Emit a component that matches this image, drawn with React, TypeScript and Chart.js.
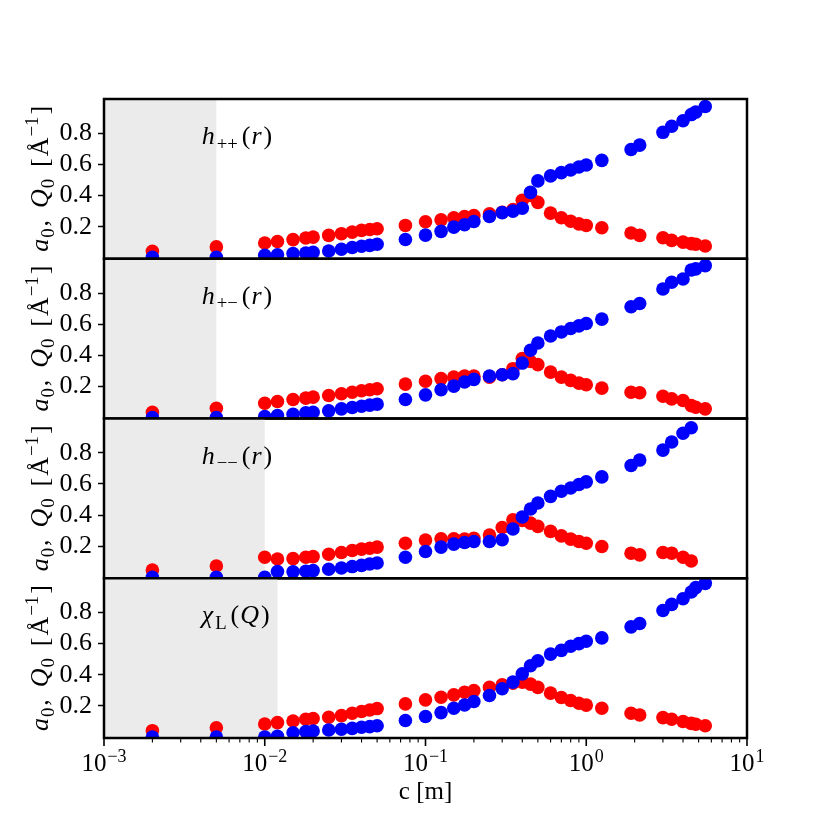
import React, { useEffect, useRef } from 'react';
import { Chart, registerables } from 'chart.js';

Chart.register(...registerables);

// concentration c [m], shared by all four panels (log x axis)
const cValues = [
  0.002, 0.005, 0.01, 0.012, 0.015, 0.018, 0.02, 0.025, 0.03, 0.035, 0.04, 0.045, 0.05,
  0.075, 0.1, 0.125, 0.15, 0.175, 0.2, 0.25, 0.3, 0.35, 0.4, 0.45, 0.5, 0.6, 0.7, 0.8,
  0.9, 1.0, 1.25, 1.9, 2.15, 3.0, 3.4, 4.0, 4.5, 4.8, 5.5,
];

// h_{++}(r)
const redHpp = [
  0.042, 0.07, 0.095, 0.105, 0.117, 0.127, 0.133, 0.144, 0.155, 0.165, 0.176, 0.182, 0.187,
  0.208, 0.232, 0.244, 0.257, 0.265, 0.271, 0.282, 0.293, 0.31, 0.37, 0.4, 0.356, 0.287, 0.257,
  0.235, 0.218, 0.208, 0.193, 0.159, 0.144, 0.129, 0.112, 0.101, 0.091, 0.087, 0.076,
];
const blueHpp = [
  0.003, 0.003, 0.016, 0.02, 0.027, 0.031, 0.035, 0.044, 0.055, 0.066, 0.074, 0.08, 0.087,
  0.118, 0.146, 0.17, 0.197, 0.212, 0.233, 0.265, 0.29, 0.3, 0.318, 0.42, 0.494, 0.526, 0.547,
  0.564, 0.583, 0.596, 0.626, 0.696, 0.724, 0.806, 0.845, 0.88, 0.92, 0.936, 0.972,
];

// h_{+-}(r)
const redHpm = [
  0.034, 0.06, 0.092, 0.103, 0.116, 0.125, 0.131, 0.142, 0.153, 0.163, 0.172, 0.179, 0.185,
  0.215, 0.233, 0.25, 0.26, 0.266, 0.266, 0.26, 0.275, 0.314, 0.379, 0.36, 0.34, 0.292, 0.26,
  0.239, 0.221, 0.211, 0.189, 0.163, 0.159, 0.137, 0.12, 0.11, 0.077, 0.066, 0.056,
];
const blueHpm = [
  0.0, 0.0, 0.006, 0.013, 0.021, 0.03, 0.034, 0.043, 0.056, 0.065, 0.073, 0.08, 0.086,
  0.116, 0.146, 0.179, 0.202, 0.228, 0.245, 0.266, 0.275, 0.282, 0.35, 0.432, 0.479, 0.524, 0.55,
  0.572, 0.589, 0.604, 0.632, 0.712, 0.733, 0.826, 0.869, 0.89, 0.948, 0.955, 0.976,
];

// h_{--}(r)  (stops at c = 4.5)
const redHmm = [
  0.047, 0.073, 0.129, 0.118, 0.12, 0.129, 0.133, 0.148, 0.159, 0.172, 0.181, 0.187, 0.194,
  0.219, 0.239, 0.247, 0.247, 0.245, 0.25, 0.271, 0.32, 0.37, 0.366, 0.348, 0.327, 0.295, 0.266,
  0.245, 0.23, 0.219, 0.198, 0.155, 0.144, 0.159, 0.155, 0.129, 0.105,
];
const blueHmm = [
  0.0, 0.0, 0.0, 0.037, 0.035, 0.039, 0.043, 0.052, 0.06, 0.069, 0.077, 0.086, 0.092,
  0.129, 0.166, 0.194, 0.213, 0.224, 0.23, 0.23, 0.241, 0.31, 0.387, 0.439, 0.477, 0.52, 0.553,
  0.574, 0.596, 0.613, 0.645, 0.718, 0.753, 0.817, 0.869, 0.925, 0.961,
];

// chi_L(Q)
const redChi = [
  0.041, 0.06, 0.084, 0.093, 0.103, 0.114, 0.119, 0.127, 0.138, 0.153, 0.164, 0.174, 0.183,
  0.213, 0.239, 0.256, 0.271, 0.288, 0.299, 0.319, 0.335, 0.346, 0.353, 0.34, 0.319, 0.282, 0.254,
  0.235, 0.217, 0.205, 0.185, 0.153, 0.142, 0.125, 0.114, 0.1, 0.088, 0.082, 0.073,
];
const blueChi = [
  0.0, 0.0, 0.0, 0.005, 0.028, 0.035, 0.039, 0.045, 0.05, 0.056, 0.063, 0.067, 0.073,
  0.106, 0.132, 0.157, 0.185, 0.206, 0.228, 0.267, 0.31, 0.353, 0.406, 0.458, 0.49, 0.533, 0.557,
  0.583, 0.6, 0.615, 0.637, 0.708, 0.729, 0.813, 0.852, 0.888, 0.932, 0.96, 0.987,
];

const shadeEnds = [0.005, 0.005, 0.01, 0.012];
const yTicks = [0.2, 0.4, 0.6, 0.8];
const xDecades = [-3, -2, -1, 0, 1];
const xMinorSteps = [2, 3, 4, 5, 6, 7, 8, 9];

type Run = { t: string; it?: boolean; sub?: boolean; sup?: boolean; gap?: number };

const panelLabels: Run[][] = [
  [{ t: 'h', it: true, gap: 2 }, { t: '++', sub: true, gap: 4 }, { t: '(', gap: 1 }, { t: 'r', it: true, gap: 2 }, { t: ')' }],
  [{ t: 'h', it: true, gap: 2 }, { t: '+−', sub: true, gap: 4 }, { t: '(', gap: 1 }, { t: 'r', it: true, gap: 2 }, { t: ')' }],
  [{ t: 'h', it: true, gap: 2 }, { t: '−−', sub: true, gap: 4 }, { t: '(', gap: 1 }, { t: 'r', it: true, gap: 2 }, { t: ')' }],
  [{ t: 'χ', it: true, gap: 2 }, { t: 'L', sub: true, gap: 4 }, { t: '(', gap: 1 }, { t: 'Q', it: true, gap: 2 }, { t: ')' }],
];
const redSeries = [redHpp, redHpm, redHmm, redChi];
const blueSeries = [blueHpp, blueHpm, blueHmm, blueChi];

const yTitle: Run[] = [
  { t: 'a', it: true, gap: 1 }, { t: '0', sub: true, gap: 2 }, { t: ',', gap: 12 },
  { t: 'Q', it: true, gap: 1 }, { t: '0', sub: true, gap: 12 },
  { t: '[', gap: 2 }, { t: 'Å', gap: 1 }, { t: '−1', sup: true, gap: 2 }, { t: ']' },
];

const FONT = '"Liberation Serif", "Times New Roman", serif';
const RED = '#ff0000';
const BLUE = '#0000ff';
const SHADE = '#ebebeb';

const SIZE = 830;
const PLOT_LEFT = 104;
const PLOT_RIGHT = 747;
const PLOT_TOP = 99;
const PLOT_BOTTOM = 738;
const PANEL_H = (PLOT_BOTTOM - PLOT_TOP) / 4;
const Y_MIN = -0.006;
const Y_MAX = 1.02;

const runFont = (r: Run, size: number) =>
  `${r.it ? 'italic ' : ''}${r.sub || r.sup ? size * 0.72 : size}px ${FONT}`;

function drawRich(ctx: CanvasRenderingContext2D, runs: Run[], x: number, y: number, size: number, align: 'left' | 'center') {
  ctx.save();
  ctx.textBaseline = 'alphabetic';
  ctx.textAlign = 'left';
  ctx.fillStyle = '#000';
  let w = 0;
  for (const r of runs) {
    ctx.font = runFont(r, size);
    w += ctx.measureText(r.t).width + (r.gap || 0);
  }
  let cx = align === 'center' ? x - w / 2 : x;
  for (const r of runs) {
    ctx.font = runFont(r, size);
    const dy = r.sub ? size * 0.22 : r.sup ? -size * 0.38 : 0;
    ctx.fillText(r.t, cx, y + dy);
    cx += ctx.measureText(r.t).width + (r.gap || 0);
  }
  ctx.restore();
}

const line = (ctx: CanvasRenderingContext2D, x1: number, y1: number, x2: number, y2: number) => {
  ctx.beginPath();
  ctx.moveTo(x1, y1);
  ctx.lineTo(x2, y2);
  ctx.stroke();
};

const decoPlugin = (idx: number) => ({
  id: 'panelDeco',
  beforeDatasetsDraw(chart: any) {
    const { ctx, chartArea: a, scales: { x } } = chart;
    const x1 = x.getPixelForValue(shadeEnds[idx]);
    ctx.save();
    ctx.fillStyle = SHADE;
    ctx.fillRect(a.left, a.top, x1 - a.left, a.bottom - a.top);
    ctx.restore();
  },
  afterDatasetsDraw(chart: any) {
    const { ctx, chartArea: a, scales: { x } } = chart;
    ctx.save();
    ctx.strokeStyle = '#000';
    ctx.lineWidth = 2.5;
    ctx.strokeRect(a.left, a.top, a.right - a.left, a.bottom - a.top);
    ctx.restore();

    drawRich(ctx, panelLabels[idx], a.left + 0.152 * (a.right - a.left), a.top + 45, 26, 'left');

    ctx.save();
    ctx.translate(48, (a.top + a.bottom) / 2);
    ctx.rotate(-Math.PI / 2);
    drawRich(ctx, yTitle, 0, 0, 26, 'center');
    ctx.restore();

    if (idx !== 3) return;
    ctx.save();
    ctx.strokeStyle = '#000';
    xDecades.forEach((e, k) => {
      const base = Math.pow(10, e);
      const px = x.getPixelForValue(base);
      ctx.lineWidth = 1.6;
      line(ctx, px, a.bottom, px, a.bottom + 8);
      drawRich(ctx, [{ t: '10', gap: 1 }, { t: `${e < 0 ? '−' : ''}${Math.abs(e)}`, sup: true }], px, a.bottom + 33, 25, 'center');
      if (k < xDecades.length - 1) {
        ctx.lineWidth = 1.1;
        xMinorSteps.forEach((m) => {
          const mx = x.getPixelForValue(m * base);
          line(ctx, mx, a.bottom, mx, a.bottom + 4.5);
        });
      }
    });
    ctx.restore();
    drawRich(ctx, [{ t: 'c [m]' }], (a.left + a.right) / 2, a.bottom + 61, 25, 'center');
  },
});

const Panel: React.FC<{ idx: number }> = ({ idx }) => {
  const ref = useRef<HTMLCanvasElement>(null);

  useEffect(() => {
    if (!ref.current) return;
    const red = redSeries[idx];
    const blue = blueSeries[idx];
    const xs = cValues.slice(0, red.length);
    const top = PLOT_TOP + idx * PANEL_H;
    const bottom = top + PANEL_H;

    const chart = new Chart(ref.current, {
      type: 'scatter',
      data: {
        datasets: [
          {
            data: xs.map((c, i) => ({ x: c, y: blue[i] })),
            backgroundColor: BLUE,
            borderWidth: 0,
            pointRadius: 6.8,
            clip: 0,
          },
          {
            data: xs.map((c, i) => ({ x: c, y: red[i] })),
            backgroundColor: RED,
            borderWidth: 0,
            pointRadius: 6.8,
            clip: 0,
          },
        ],
      },
      options: {
        animation: false,
        responsive: false,
        events: [],
        layout: { padding: { left: 0, right: SIZE - PLOT_RIGHT, top, bottom: SIZE - bottom } },
        plugins: { legend: { display: false }, tooltip: { enabled: false } },
        scales: {
          x: { type: 'logarithmic', min: 1e-3, max: 10, display: false },
          y: {
            min: Y_MIN,
            max: Y_MAX,
            afterBuildTicks: (s: any) => {
              s.ticks = yTicks.map((v) => ({ value: v }));
            },
            afterFit: (s: any) => {
              s.width = PLOT_LEFT;
              s.paddingTop = 0;
              s.paddingBottom = 0;
            },
            border: { display: false },
            grid: { drawOnChartArea: false, drawTicks: true, tickLength: 6, tickWidth: 1.5, color: '#000' },
            ticks: {
              color: '#000',
              padding: 6,
              font: { family: FONT, size: 26 },
              callback: (v: any) => Number(v).toFixed(1),
            },
          },
        },
      },
      plugins: [decoPlugin(idx)],
    });

    return () => chart.destroy();
  }, [idx]);

  return (
    <canvas
      ref={ref}
      width={SIZE}
      height={SIZE}
      style={{ position: 'absolute', left: 0, top: 0, width: SIZE, height: SIZE }}
    />
  );
};

export default function App() {
  return (
    <div style={{ position: 'fixed', left: 0, top: 0, width: SIZE, height: SIZE, background: '#fff' }}>
      {[0, 1, 2, 3].map((i) => (
        <Panel key={i} idx={i} />
      ))}
    </div>
  );
}
